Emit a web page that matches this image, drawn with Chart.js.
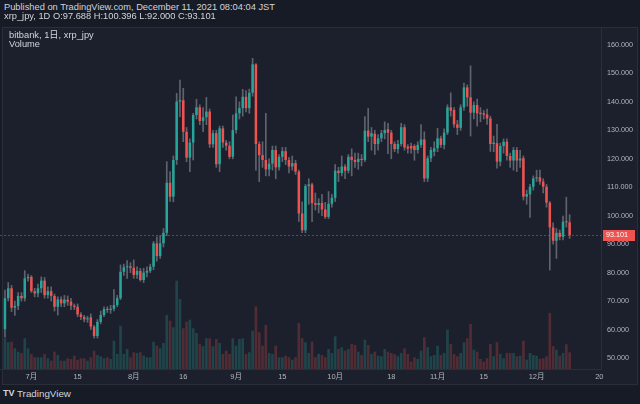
<!DOCTYPE html>
<html><head><meta charset="utf-8">
<script src="https://cdn.jsdelivr.net/npm/chart.js@4.4.0/dist/chart.umd.min.js"></script>
<style>
html,body{margin:0;padding:0;background:#171b26;width:640px;height:404px;overflow:hidden;font-family:"Liberation Sans","Noto Sans CJK JP",sans-serif;}
#pane{position:absolute;left:2px;top:27px;width:634px;height:356px;background:#1c202c;border:1px solid #2a2e39;}
#cv{position:absolute;left:0;top:28px;}
.t{position:absolute;color:#d1d4dc;white-space:nowrap;font-size:9.3px;line-height:11px;}
</style></head>
<body>
<div id="pane"></div>
<canvas id="cv" width="640" height="356"></canvas>
<div class="t" style="left:4px;top:2px">Published on TradingView.com, December 11, 2021 08:04:04 JST</div>
<div class="t" id="ohlc" style="left:4px;top:11px"></div>
<div class="t" style="left:9px;top:30px">bitbank, 1日, xrp_jpy</div>
<div class="t" style="left:9px;top:38.5px">Volume</div>
<div class="t" style="left:3px;top:388px;font-weight:bold;font-size:9px">TV</div>
<div class="t" style="left:17px;top:387.5px;font-size:9.8px">TradingView</div>
<script>
// ---- data (bitbank XRP/JPY daily, 2021-06-23 .. 2021-12-11) ----
const firstCandle = '2021-06-23';
const open = [
60.1,71.0,74.5,67.7,68.3,71.8,71.0,78.0,78.5,73.5,
72.7,74.5,77.2,72.1,73.5,71.8,68.0,70.6,69.2,70.5,
69.8,68.4,68.0,65.3,64.4,63.6,64.3,61.0,57.7,62.7,
65.1,67.2,66.9,67.3,68.6,71.0,80.3,81.9,82.2,81.7,
79.2,80.6,77.4,80.0,80.6,82.1,90.3,85.8,90.3,94.0,
111.6,106.7,119.6,140.1,140.6,129.5,120.4,125.7,135.4,138.1,
133.3,134.6,136.6,125.1,129.0,118.1,130.7,125.7,124.6,120.7,
130.1,136.0,137.8,141.8,137.8,143.2,153.2,125.2,121.3,119.6,
116.3,118.3,123.1,117.0,120.7,122.7,119.6,117.3,118.5,115.5,
100.8,94.9,110.4,111.0,104.4,103.8,104.5,102.2,99.6,104.2,
106.3,115.8,115.0,117.3,115.8,120.7,119.6,118.9,120.0,119.6,
129.9,127.8,128.8,125.2,127.2,129.0,130.4,129.2,125.2,123.4,
125.2,131.1,124.3,124.5,124.5,123.1,124.9,126.8,113.1,120.2,
122.5,123.7,127.2,124.9,129.2,138.1,137.2,132.1,130.9,138.1,
145.1,141.6,136.2,138.9,136.2,136.0,135.6,134.2,125.2,125.5,
119.0,124.5,126.0,121.0,119.4,123.1,119.4,120.2,106.7,107.5,
110.2,113.1,113.5,112.0,110.2,104.6,95.9,91.2,94.0,92.6,
97.9,97.688];
const high = [
73.9,76.5,75.5,70.0,73.0,73.0,80.7,79.5,79.0,74.5,
76.0,78.5,78.3,75.0,75.0,72.5,71.5,71.5,72.0,71.8,
71.0,69.0,69.0,66.0,65.0,64.7,65.5,61.5,63.5,66.5,
68.0,68.0,68.5,74.0,72.0,82.7,83.0,84.2,83.5,84.5,
82.0,81.5,81.5,82.0,83.0,91.0,92.6,93.0,95.5,119.0,
115.5,121.0,143.0,147.7,144.8,131.0,127.0,136.0,140.9,139.0,
138.0,141.6,137.5,130.0,130.0,131.5,131.5,126.5,126.0,135.4,
141.8,140.0,144.4,144.0,144.5,155.3,153.5,126.0,126.0,136.0,
120.0,124.5,124.5,121.5,124.0,124.0,120.5,121.0,119.5,116.0,
104.9,111.0,113.0,111.5,108.0,106.0,107.5,104.7,108.5,107.5,
118.0,117.0,121.0,118.0,121.5,123.5,122.0,122.0,121.5,134.8,
137.7,131.0,130.0,128.5,130.0,133.0,132.5,130.0,126.0,126.5,
132.5,132.0,125.0,125.5,125.0,126.0,132.0,129.5,121.0,124.0,
126.0,130.7,128.0,130.5,139.0,143.2,138.0,133.5,139.0,146.6,
146.0,152.7,140.0,141.0,138.0,137.0,137.5,135.0,128.0,132.1,
125.5,127.0,127.0,122.0,124.0,124.0,123.0,121.0,109.0,111.0,
114.0,116.0,116.0,113.0,111.0,105.0,97.5,95.5,95.0,99.9,
106.5,100.396];
const low = [
57.3,70.0,66.3,65.0,67.0,70.0,70.0,77.0,73.0,71.5,
71.5,73.0,71.0,71.0,70.0,66.5,65.1,68.0,68.0,68.5,
67.0,67.0,64.5,63.5,62.7,62.5,60.0,57.0,57.0,62.0,
64.5,66.0,65.7,66.5,68.0,70.5,79.0,78.0,80.0,78.0,
78.0,77.0,76.5,78.5,80.0,81.0,84.0,85.0,89.0,93.0,
105.0,104.9,118.0,134.8,126.0,119.0,115.5,119.6,134.0,132.0,
129.5,132.0,124.0,124.0,117.0,115.5,124.0,123.0,120.0,120.0,
129.0,134.0,135.0,136.5,136.0,142.0,116.0,112.0,117.0,114.0,
114.0,116.0,113.0,116.0,119.0,118.0,115.0,116.0,114.5,98.0,
94.0,94.0,104.0,97.9,102.0,101.0,100.0,99.0,99.0,103.0,
105.0,112.0,114.0,113.0,115.0,114.0,117.0,116.3,117.5,119.0,
126.0,123.0,121.5,123.0,126.0,127.0,121.8,120.0,122.5,122.0,
124.5,123.0,122.0,122.0,119.5,122.0,124.0,112.0,112.0,119.0,
121.0,122.5,124.0,123.5,128.5,135.0,131.0,128.5,130.0,137.0,
138.5,128.0,134.0,131.5,133.0,134.0,132.1,122.6,122.5,116.7,
117.5,122.0,119.5,117.0,116.0,115.5,117.0,105.5,104.0,99.4,
109.0,112.0,111.0,108.0,103.0,80.9,90.0,85.0,91.5,91.5,
96.0,92.0];
const close = [
71.0,74.5,67.7,68.3,71.8,71.0,78.0,78.5,73.5,72.7,
74.5,77.2,72.1,73.5,71.8,68.0,70.6,69.2,70.5,69.8,
68.4,68.0,65.3,64.4,63.6,63.8,61.0,57.7,62.7,65.1,
67.2,66.9,67.3,68.6,71.0,80.3,81.9,82.2,81.7,79.2,
80.6,77.4,80.0,80.6,82.1,90.3,85.8,90.3,94.0,111.6,
106.7,119.6,140.1,140.6,129.5,120.4,125.7,135.4,138.1,133.3,
134.6,136.6,125.1,129.0,118.1,130.7,125.7,124.6,120.7,130.1,
136.0,137.8,141.8,137.8,143.2,153.2,125.2,121.3,119.6,116.3,
118.3,123.1,117.0,120.7,122.7,119.6,117.3,118.5,115.5,100.8,
94.9,110.4,111.0,104.4,103.8,104.5,102.2,99.6,104.2,106.3,
115.8,115.0,117.3,115.8,120.7,119.6,118.9,120.0,119.6,129.9,
127.8,129.0,125.2,127.2,129.0,130.1,129.2,125.2,123.4,125.2,
131.1,124.0,123.6,123.6,123.1,124.9,126.8,113.1,120.2,123.1,
123.7,127.2,124.9,129.2,138.1,136.9,132.1,130.9,138.1,145.1,
141.6,136.2,138.9,136.0,135.8,135.5,134.2,125.2,125.7,119.0,
124.5,126.0,121.0,119.4,123.1,119.4,120.1,106.7,107.6,110.2,
113.1,113.5,112.0,110.2,104.6,95.9,91.2,94.0,92.6,97.9,
97.7,93.101];
// volume (relative units, millions)
const volume = [
30.7,26.7,27.3,20.7,17.3,16.0,30.7,20.7,15.0,11.7,
11.7,11.7,15.0,10.7,8.3,17.3,14.0,8.3,8.3,10.7,
10.0,13.3,9.0,10.7,10.7,8.3,11.7,18.3,14.0,12.7,
10.7,11.7,10.0,28.3,15.0,43.3,15.0,20.0,11.7,16.7,
16.0,16.7,13.3,11.7,11.7,27.3,23.3,20.7,26.0,54.0,
48.3,41.7,88.3,70.0,40.7,47.3,49.3,40.7,36.0,25.0,
22.7,30.7,30.7,22.7,30.0,26.0,15.0,18.3,15.0,30.7,
23.3,30.0,30.7,15.0,16.7,38.3,62.7,36.7,23.3,44.0,
16.0,15.0,23.3,11.7,11.7,13.3,11.7,9.3,11.7,46.0,
30.7,26.7,16.0,27.3,11.7,15.0,14.0,11.7,20.0,16.0,
32.7,20.0,21.7,18.3,20.0,25.0,24.0,17.3,14.0,29.3,
24.0,15.0,17.3,13.3,12.7,20.0,17.3,16.0,14.7,12.7,
16.0,20.7,15.0,7.3,11.7,10.0,18.3,31.7,21.7,12.7,
14.0,23.3,14.0,16.0,39.3,25.0,15.0,12.7,16.0,26.7,
30.7,45.0,19.3,17.3,10.0,7.3,10.7,25.0,12.7,26.7,
15.0,10.7,16.0,16.0,16.0,12.7,13.3,28.3,9.3,16.0,
14.0,13.3,10.0,10.7,12.7,56.0,22.7,19.3,13.3,16.0,
24.7,16.7];
const priceTicks = [50,60,70,80,90,100,110,120,130,140,150,160];
const tickDates  = ['2021-07-01','2021-07-15','2021-08-01','2021-08-16','2021-09-01','2021-09-15','2021-10-01','2021-10-18','2021-11-01','2021-11-15','2021-12-01','2021-12-20'];
const tickLabels = ['7月','15','8月','16','9月','15','10月','18','11月','15','12月','20'];

// ---- category axis: one slot per calendar day ----
const axisStart = Date.UTC(2021,5,22), axisDays = 182;
const days = Array.from({length: axisDays}, (_, i) => new Date(axisStart + i*86400000).toISOString().slice(0,10));
const off = days.indexOf(firstCandle);
const dateOf = i => days[off + i];
const tickIdx = tickDates.map(d => days.indexOf(d));

const UP = '#26a69a', DOWN = '#ef5350';
const isUp = i => close[i] >= open[i];

const n = close.length;
document.getElementById('ohlc').textContent =
  `xrp_jpy, 1D O:${open[n-1].toFixed(3)} H:${high[n-1].toFixed(3)} L:${low[n-1].toFixed(3)} C:${close[n-1].toFixed(3)}`;

const noPad = s => { s.paddingTop = 0; s.paddingBottom = 0; s.paddingLeft = 0; s.paddingRight = 0; };

const lastPrice = {
  id: 'lastPrice',
  beforeDatasetsDraw(chart) {
    const {ctx, chartArea} = chart;
    const py = Math.round(chart.scales.y.getPixelForValue(close[n-1])) + 0.5;
    ctx.save();
    ctx.strokeStyle = 'rgba(239,83,80,0.5)';
    ctx.lineWidth = 1;
    ctx.setLineDash([2, 2]);
    ctx.beginPath(); ctx.moveTo(chartArea.left, py); ctx.lineTo(chartArea.right, py); ctx.stroke();
    ctx.restore();
  },
  afterDraw(chart) {
    const {ctx, chartArea} = chart;
    const py = chart.scales.y.getPixelForValue(close[n-1]);
    ctx.save();
    ctx.fillStyle = '#ef5350';
    ctx.fillRect(chartArea.right + 2, Math.round(py) - 5, 32, 11);
    ctx.fillStyle = '#ffffff';
    ctx.font = '7.2px "Liberation Sans"';
    ctx.textBaseline = 'middle';
    ctx.textAlign = 'left';
    ctx.fillText(close[n-1].toFixed(3), chartArea.right + 5, Math.round(py) + 0.5);
    ctx.restore();
  }
};

new Chart(document.getElementById('cv'), {
  type: 'bar',
  data: {
    labels: days,
    datasets: [
      {
        label: 'Volume', yAxisID: 'yv', order: 3, grouped: false,
        data: volume.map((v, i) => ({x: dateOf(i), y: v})),
        backgroundColor: volume.map((v, i) => isUp(i) ? 'rgba(38,166,154,0.28)' : 'rgba(239,83,80,0.26)'),
        barPercentage: 0.8, categoryPercentage: 1, borderWidth: 0
      },
      {
        label: 'wick', yAxisID: 'y', order: 2, grouped: false,
        data: high.map((h, i) => ({x: dateOf(i), y: [low[i], h]})),
        backgroundColor: '#5f636e', barThickness: 1, borderWidth: 0
      },
      {
        label: 'body', yAxisID: 'y', order: 1, grouped: false,
        data: open.map((o, i) => ({x: dateOf(i), y: [o, close[i]]})),
        backgroundColor: open.map((o, i) => isUp(i) ? UP : DOWN),
        barPercentage: 0.76, categoryPercentage: 1, borderWidth: 0, minBarLength: 1
      }
    ]
  },
  options: {
    responsive: false, animation: false,
    layout: {padding: 0},
    plugins: {legend: {display: false}, tooltip: {enabled: false}},
    scales: {
      x: {
        type: 'category', offset: true,
        grid: {display: false, offset: false, drawTicks: false},
        border: {display: true, color: '#2a2e39'},
        afterBuildTicks: s => { s.ticks = tickIdx.map(v => ({value: v})); },
        afterFit: s => { s.height = 15; noPad(s); },
        ticks: {
          autoSkip: false, maxRotation: 0, padding: 3, color: '#b2b5be',
          font: {size: 7.5, family: '"Liberation Sans","Noto Sans CJK JP"'},
          callback: v => tickLabels[tickIdx.indexOf(v)]
        }
      },
      y: {
        position: 'right', min: 46.13, max: 165.975,
        grid: {display: false, drawTicks: false},
        border: {display: true, color: '#2a2e39'},
        afterBuildTicks: s => { s.ticks = priceTicks.map(v => ({value: v})); },
        afterFit: s => { s.width = 39; noPad(s); },
        ticks: {
          padding: 6, color: '#b2b5be',
          font: {size: 7.2, family: '"Liberation Sans"'},
          callback: v => Number(v).toFixed(3)
        }
      },
      yv: {
        display: false, min: 0, max: 341
      }
    }
  },
  plugins: [lastPrice]
});
</script>
</body></html>
